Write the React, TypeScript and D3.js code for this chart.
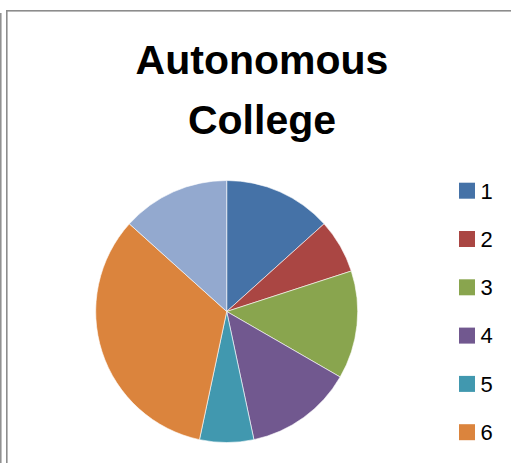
import React, { useRef, useEffect } from 'react';
import * as d3 from 'd3';

const categories = ['1', '2', '3', '4', '5', '6', '7'];
const values = [2, 1, 2, 2, 1, 5, 2];
const colors = ['#4572A7', '#AA4643', '#89A54E', '#71588F', '#4198AF', '#DB843D', '#93A9CF'];
const titleLines = ['Autonomous', 'College'];

const App: React.FC = () => {
  const ref = useRef<SVGSVGElement | null>(null);

  useEffect(() => {
    if (!ref.current) return;
    const svg = d3.select(ref.current);
    svg.selectAll('*').remove();

    const width = 511;
    const height = 463;

    svg.append('rect').attr('width', width).attr('height', height).attr('fill', '#fff');

    // outer frame pieces
    svg.append('line')
      .attr('x1', 0.8).attr('x2', 0.8)
      .attr('y1', 13).attr('y2', height)
      .attr('stroke', '#8c8c8c').attr('stroke-width', 1.5);
    svg.append('rect')
      .attr('x', 6.8).attr('y', 10.8)
      .attr('width', 600).attr('height', 600)
      .attr('fill', 'none')
      .attr('stroke', '#8c8c8c').attr('stroke-width', 1.6);

    // title
    const title = svg.append('text')
      .attr('text-anchor', 'middle')
      .attr('font-family', '"Liberation Sans", Arial, sans-serif')
      .attr('font-weight', 'bold')
      .attr('font-size', 41)
      .attr('fill', '#000');
    titleLines.forEach((t, i) => {
      title.append('tspan').attr('x', 262).attr('y', 73.5 + i * 60).text(t);
    });

    // pie
    const cx = 226.7;
    const cy = 311.5;
    const r = 131;
    const pie = d3.pie<number>().sort(null).value(d => d);
    const arc = d3.arc<d3.PieArcDatum<number>>().innerRadius(0).outerRadius(r);
    const g = svg.append('g').attr('transform', `translate(${cx},${cy})`);
    g.selectAll('path')
      .data(pie(values))
      .enter()
      .append('path')
      .attr('d', arc as any)
      .attr('fill', (_, i) => colors[i])
      .attr('stroke', '#fff')
      .attr('stroke-width', 0.6);

    // legend (the last entry falls below the visible area, as in the original)
    const legendY = d3.scalePoint<string>()
      .domain(categories)
      .range([190.7, 190.7 + 48.3 * (categories.length - 1)]);
    const legend = svg.append('g');
    categories.forEach((c, i) => {
      const y = legendY(c) as number;
      if (y + 12 > height) return;
      legend.append('rect')
        .attr('x', 459).attr('y', y - 8)
        .attr('width', 16).attr('height', 16)
        .attr('fill', colors[i]);
      legend.append('text')
        .attr('x', 480.5).attr('y', y + 7.8)
        .attr('font-family', '"Liberation Sans", Arial, sans-serif')
        .attr('font-size', 22)
        .attr('fill', '#000')
        .text(c);
    });
  }, []);

  return (
    <svg
      ref={ref}
      width={511}
      height={463}
      style={{ position: 'absolute', left: 0, top: 0, display: 'block' }}
    />
  );
};

export default App;
